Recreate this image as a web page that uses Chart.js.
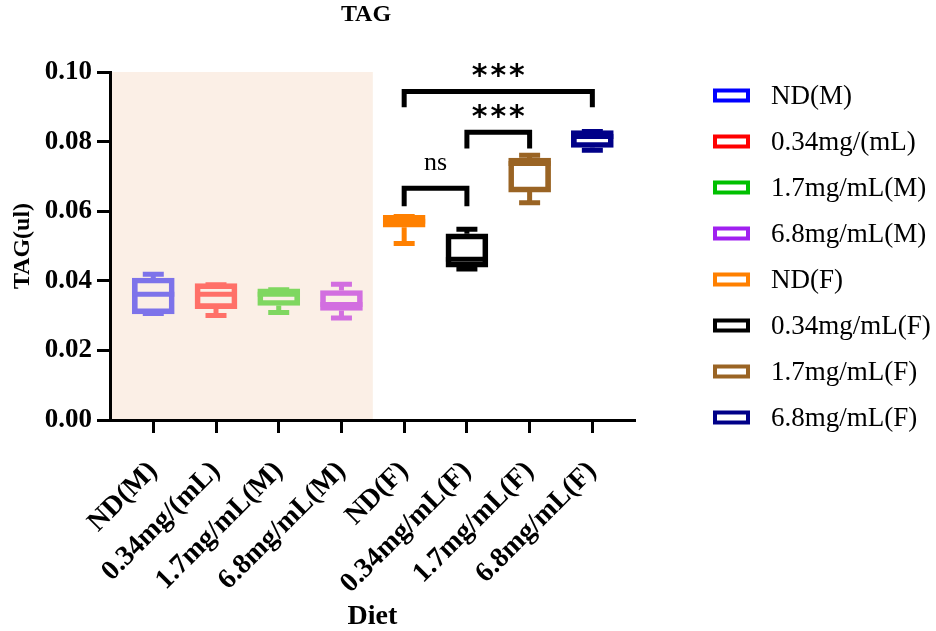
<!DOCTYPE html>
<html>
<head>
<meta charset="utf-8">
<title>TAG</title>
<script src="https://cdn.jsdelivr.net/npm/chart.js@4.4.1/dist/chart.umd.min.js"></script>
<style>
  html, body { margin: 0; padding: 0; background: #ffffff; }
  #wrap { width: 936px; height: 631px; position: relative; }
</style>
</head>
<body>
<div id="wrap"><canvas id="chart" width="936" height="631"></canvas></div>
<script>
// Diet groups (male groups first, then female groups)
const categories = ['ND(M)', '0.34mg/(mL)', '1.7mg/mL(M)', '6.8mg/mL(M)',
                    'ND(F)', '0.34mg/mL(F)', '1.7mg/mL(F)', '6.8mg/mL(F)'];

// Five-number summaries of TAG per group
const whiskerLow  = [0.0306, 0.0300, 0.0309, 0.0293, 0.0507, 0.0434, 0.0624, 0.0775];
const quartile1   = [0.0305, 0.0320, 0.0329, 0.0315, 0.0554, 0.0439, 0.0655, 0.0783];
const medians     = [0.0361, 0.0361, 0.0361, 0.0332, 0.0571, 0.0462, 0.0737, 0.0815];
const quartile3   = [0.0408, 0.0392, 0.0377, 0.0372, 0.0588, 0.0535, 0.0753, 0.0832];
const whiskerHigh = [0.0419, 0.0389, 0.0374, 0.0390, 0.0585, 0.0548, 0.0761, 0.0829];

// Y axis tick values
const yTicks = [0.00, 0.02, 0.04, 0.06, 0.08, 0.10];

// Significance comparisons (group indices, bracket level, bracket tip, label)
const sigFrom  = [4, 5, 4];
const sigTo    = [7, 6, 5];
const sigLevel = [0.0944, 0.0827, 0.0666];
const sigTip   = [0.0899, 0.0780, 0.0614];
const sigText  = ['***', '***', 'ns'];

// Male groups sit on a shaded band that ends halfway between groups 3 and 4
const shadeEnd = 3.5;

// Styling
const boxColors    = ['#7d73ea', '#ff7068', '#7fd760', '#d26ee0', '#ff8000', '#000000', '#9a6424', '#000088'];
const legendColors = ['#0000ff', '#ff0000', '#00c000', '#a020f0', '#ff8000', '#000000', '#9a6424', '#000088'];
const SERIF = "'Liberation Serif', 'Times New Roman', serif";
const LINE = 5;

const boxPlotPlugin = {
  id: 'boxPlotParts',
  beforeDraw(chart) {
    const { ctx, chartArea, scales: { x } } = chart;
    ctx.save();
    ctx.fillStyle = '#fbefe6';
    const x0 = x.getPixelForValue(x.min);
    const x1 = x.getPixelForValue(shadeEnd);
    ctx.fillRect(x0, chartArea.top, x1 - x0, chartArea.bottom - chartArea.top);
    ctx.restore();
  },
  afterDatasetsDraw(chart) {
    const { ctx, scales: { x, y } } = chart;
    ctx.save();
    ctx.lineCap = 'butt';
    ctx.lineWidth = LINE;
    categories.forEach((c, i) => {
      const px = x.getPixelForValue(i);
      const half = 21, cap = 10.5;
      ctx.strokeStyle = boxColors[i];
      ctx.beginPath();
      // whiskers
      ctx.moveTo(px, y.getPixelForValue(whiskerHigh[i]));
      ctx.lineTo(px, y.getPixelForValue(quartile3[i]));
      ctx.moveTo(px, y.getPixelForValue(whiskerLow[i]));
      ctx.lineTo(px, y.getPixelForValue(quartile1[i]));
      // caps
      ctx.moveTo(px - cap, y.getPixelForValue(whiskerHigh[i]));
      ctx.lineTo(px + cap, y.getPixelForValue(whiskerHigh[i]));
      ctx.moveTo(px - cap, y.getPixelForValue(whiskerLow[i]));
      ctx.lineTo(px + cap, y.getPixelForValue(whiskerLow[i]));
      // median
      ctx.moveTo(px - half, y.getPixelForValue(medians[i]));
      ctx.lineTo(px + half, y.getPixelForValue(medians[i]));
      ctx.stroke();
    });
    ctx.restore();
  },
  afterDraw(chart) {
    const { ctx, scales: { x, y } } = chart;
    ctx.save();
    // chart title
    ctx.fillStyle = '#000';
    ctx.font = `bold 24px ${SERIF}`;
    ctx.textAlign = 'center';
    ctx.textBaseline = 'middle';
    ctx.fillText('TAG', 366, 15);

    // significance brackets
    ctx.strokeStyle = '#000';
    ctx.lineWidth = LINE;
    ctx.lineJoin = 'miter';
    sigFrom.forEach((from, k) => {
      const xa = x.getPixelForValue(from);
      const xb = x.getPixelForValue(sigTo[k]);
      const yl = y.getPixelForValue(sigLevel[k]);
      const yt = y.getPixelForValue(sigTip[k]);
      ctx.beginPath();
      ctx.moveTo(xa, yt);
      ctx.lineTo(xa, yl);
      ctx.lineTo(xb, yl);
      ctx.lineTo(xb, yt);
      ctx.stroke();
      const label = sigText[k];
      if (label === 'ns') {
        ctx.font = `26px ${SERIF}`;
        ctx.letterSpacing = '0px';
        ctx.textBaseline = 'middle';
        ctx.fillText(label, (xa + xb) / 2, yl - 25);
      } else {
        ctx.font = `bold 30px 'DejaVu Sans', sans-serif`;
        ctx.letterSpacing = '3px';
        ctx.textBaseline = 'alphabetic';
        ctx.fillText(label, (xa + xb) / 2 + 1.5, yl - 6);
      }
    });
    ctx.letterSpacing = '0px';

    // legend
    chart.data.datasets.forEach((ds, i) => {
      const cy = 95.5 + 46 * i;
      ctx.strokeStyle = legendColors[i];
      ctx.lineWidth = 4;
      ctx.strokeRect(715, cy - 5, 33, 10);
      ctx.fillStyle = '#000';
      ctx.font = `27px ${SERIF}`;
      ctx.textAlign = 'left';
      ctx.textBaseline = 'middle';
      ctx.fillText(ds.label, 771, cy + 1);
    });
    ctx.restore();
  }
};

const datasets = categories.map((label, i) => ({
  label,
  data: [{ x: i, y: [quartile1[i], quartile3[i]] }],
  borderColor: boxColors[i],
  backgroundColor: 'rgba(0,0,0,0)',
  borderWidth: LINE,
  borderSkipped: false,
  barThickness: 42,
  grouped: false
}));

new Chart(document.getElementById('chart'), {
  type: 'bar',
  data: { datasets },
  plugins: [boxPlotPlugin],
  options: {
    responsive: false,
    animation: false,
    devicePixelRatio: 1,
    layout: { padding: { top: 72, right: 301, bottom: 0, left: 0 } },
    plugins: {
      legend: { display: false },
      title: { display: false },
      tooltip: { enabled: false }
    },
    scales: {
      x: {
        type: 'linear',
        offset: false,
        min: -0.69,
        max: 7.68,
        afterBuildTicks: s => { s.ticks = categories.map((c, i) => ({ value: i })); },
        afterFit: s => { s.height = 211; },
        ticks: {
          autoSkip: false,
          minRotation: 45,
          maxRotation: 45,
          padding: 22,
          color: '#000',
          font: { family: SERIF, size: 28, weight: 'bold' },
          callback: v => categories[v]
        },
        grid: {
          offset: false,
          drawOnChartArea: false,
          drawTicks: true,
          tickLength: 13,
          tickWidth: 3,
          tickColor: '#000'
        },
        border: { display: true, color: '#000', width: 3 },
        title: {
          display: true,
          text: 'Diet',
          color: '#000',
          font: { family: SERIF, size: 28, weight: 'bold' },
          padding: { top: 0, bottom: -3 }
        }
      },
      y: {
        min: 0,
        max: 0.10,
        afterBuildTicks: s => { s.ticks = yTicks.map(v => ({ value: v })); },
        afterFit: s => { s.width = 110; },
        ticks: {
          padding: 5,
          color: '#000',
          font: { family: SERIF, size: 27, weight: 'bold' },
          callback: v => Number(v).toFixed(2)
        },
        grid: {
          drawOnChartArea: false,
          drawTicks: true,
          tickLength: 13,
          tickWidth: 3,
          tickColor: '#000'
        },
        border: { display: true, color: '#000', width: 3 },
        title: {
          display: true,
          text: 'TAG(ul)',
          color: '#000',
          font: { family: SERIF, size: 24, weight: 'bold' },
          padding: { top: 8, bottom: 0 }
        }
      }
    }
  }
});
</script>
</body>
</html>
